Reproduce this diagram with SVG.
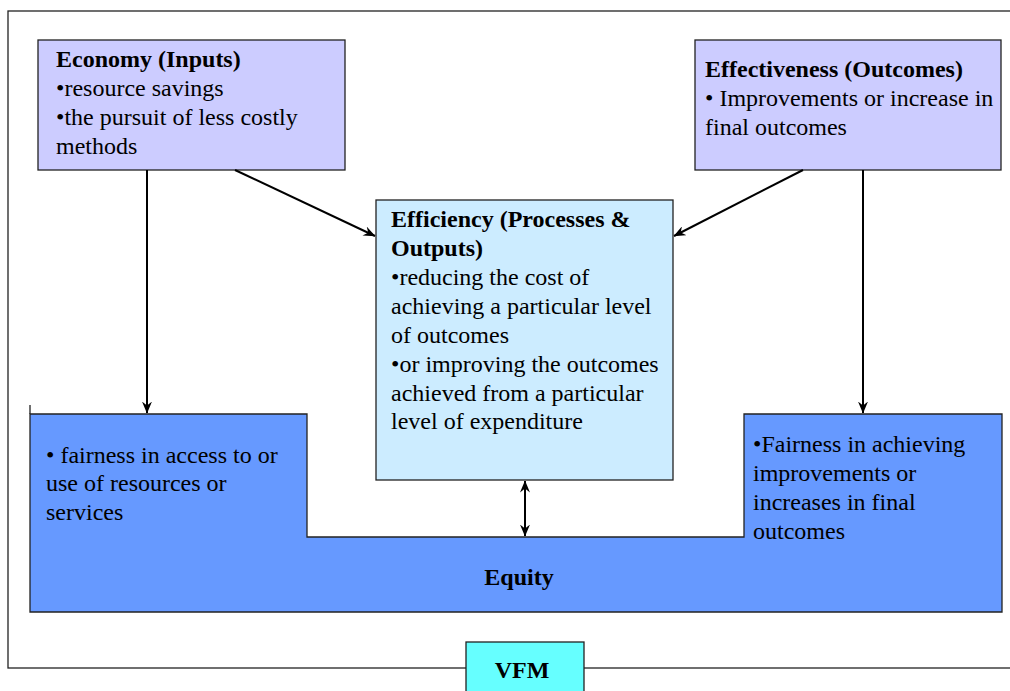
<svg xmlns="http://www.w3.org/2000/svg" width="1010" height="691" viewBox="0 0 1010 691">
<defs>
<marker id="arr" viewBox="0 0 12 10" refX="11.5" refY="5" markerWidth="12" markerHeight="10" markerUnits="userSpaceOnUse" orient="auto-start-reverse">
<path d="M0,0 L12,5 L0,10 L4,5 z" fill="#000"/>
</marker>
<style>
.box{stroke:#222;stroke-width:1.3}
.t{font-family:"Liberation Serif","Times New Roman",serif;font-size:24px;fill:#000}
.b{font-weight:bold}
.c{stroke:#000;stroke-width:2;fill:none}
</style>
</defs>
<rect x="0" y="0" width="1010" height="691" fill="#fff"/>
<rect id="frame" x="8" y="11" width="1010" height="657" fill="none" stroke="#222" stroke-width="1.3"/>
<g id="equity">
<path class="box" fill="#6699FF" d="M30,414 L307,414 L307,537 L744,537 L744,414 L1002,414 L1002,612 L30,612 Z"/>
<path d="M30,405 L30,414" stroke="#222" stroke-width="1.3"/>
<text class="t" x="46" y="463">• fairness in access to or</text>
<text class="t" x="46" y="491">use of resources or</text>
<text class="t" x="46" y="520">services</text>
<text class="t" x="753" y="452">•Fairness in achieving</text>
<text class="t" x="753" y="481">improvements or</text>
<text class="t" x="753" y="510">increases in final</text>
<text class="t" x="753" y="539">outcomes</text>
<text class="t b" x="519" y="585" text-anchor="middle">Equity</text>
</g>
<g id="economy">
<rect class="box" x="38" y="40" width="307" height="130" fill="#CCCCFF"/>
<text class="t b" x="56" y="67">Economy (Inputs)</text>
<text class="t" x="56" y="96">•resource savings</text>
<text class="t" x="56" y="125">•the pursuit of less costly</text>
<text class="t" x="56" y="154">methods</text>
</g>
<g id="effectiveness">
<rect class="box" x="695" y="40" width="306" height="130" fill="#CCCCFF"/>
<text class="t b" x="705" y="77">Effectiveness (Outcomes)</text>
<text class="t" x="705" y="106">• Improvements or increase in</text>
<text class="t" x="705" y="135">final outcomes</text>
</g>
<g id="efficiency">
<rect class="box" x="376" y="200" width="297" height="280" fill="#CCECFF"/>
<text class="t b" x="391" y="227">Efficiency (Processes &amp;</text>
<text class="t b" x="391" y="256">Outputs)</text>
<text class="t" x="391" y="285">•reducing the cost of</text>
<text class="t" x="391" y="314">achieving a particular level</text>
<text class="t" x="391" y="343">of outcomes</text>
<text class="t" x="391" y="372">•or improving the outcomes</text>
<text class="t" x="391" y="401">achieved from a particular</text>
<text class="t" x="391" y="429">level of expenditure</text>
</g>
<g id="vfm">
<rect class="box" x="466" y="642" width="118" height="60" fill="#66FFFF"/>
<text class="t b" x="522" y="678" text-anchor="middle">VFM</text>
</g>
<g id="connectors">
<line class="c" x1="147" y1="170" x2="147" y2="413" marker-end="url(#arr)"/>
<line class="c" x1="235" y1="170" x2="375" y2="236" marker-end="url(#arr)"/>
<line class="c" x1="803" y1="170" x2="674" y2="236" marker-end="url(#arr)"/>
<line class="c" x1="863" y1="170" x2="863" y2="413" marker-end="url(#arr)"/>
<line class="c" x1="525" y1="481" x2="525" y2="536" marker-start="url(#arr)" marker-end="url(#arr)"/>
</g>
</svg>
